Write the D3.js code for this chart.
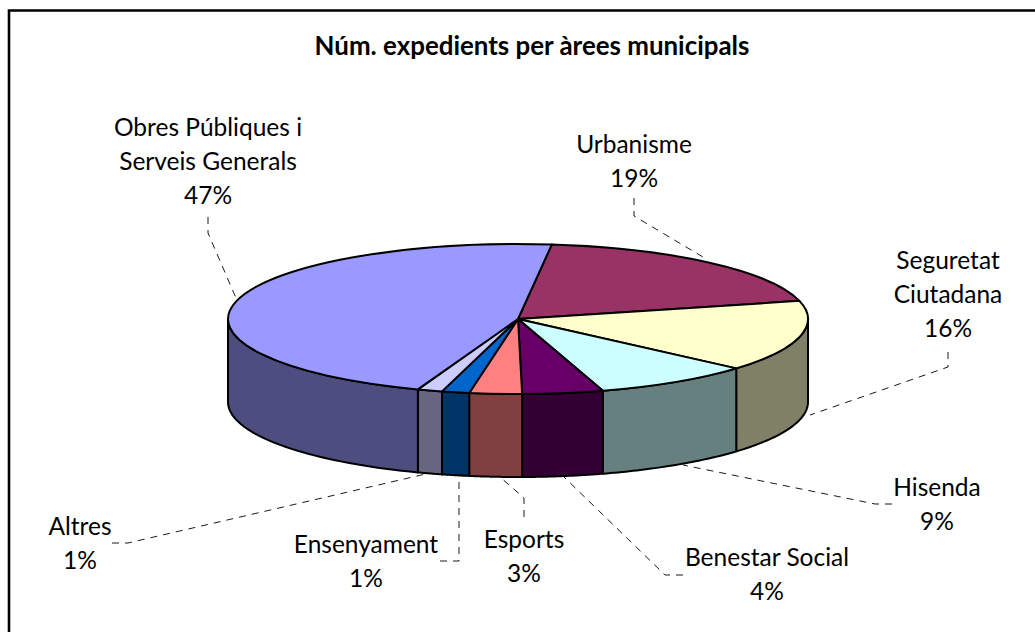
<!DOCTYPE html>
<html>
<head>
<meta charset="utf-8">
<script src="https://cdn.jsdelivr.net/npm/d3@7"></script>
<style>
  html, body { margin: 0; padding: 0; background: #fff; }
  svg { display: block; }
  text { font-family: "Lato", sans-serif; fill: #000; text-anchor: middle; }
</style>
</head>
<body>
<svg id="chart" width="1035" height="632"></svg>
<script>
const chartTitle = 'Núm. expedients per àrees municipals';

/* slices in drawing order, clockwise from the top */
const areas = ['Urbanisme', 'Seguretat Ciutadana', 'Hisenda', 'Benestar Social',
               'Esports', 'Ensenyament', 'Altres', 'Obres Públiques i Serveis Generals'];
const shares = [19.25, 15.33, 8.83, 4.5, 2.92, 1.53, 1.39, 46.25];
const percentLabels = ['19%', '16%', '9%', '4%', '3%', '1%', '1%', '47%'];
const topColors = ['#993366', '#FFFFCC', '#CCFFFF', '#660066', '#FF8080', '#0066CC', '#CCCCFF', '#9999FF'];

/* label placement: centre x, first baseline, wrapped lines */
const labelLines = [
  ['Urbanisme'], ['Seguretat', 'Ciutadana'], ['Hisenda'], ['Benestar Social'],
  ['Esports'], ['Ensenyament'], ['Altres'], ['Obres Públiques i', 'Serveis Generals']
];
const labelX = [634, 948, 937, 767, 524, 366, 80, 208];
const labelY = [153, 269, 496, 566, 548, 553, 535, 136];

/* leader lines, label end to pie end */
const leaders = [
  [[634, 198], [634, 216], [708, 260]],
  [[948, 352], [948, 367], [810, 415]],
  [[892, 504], [875, 504], [683, 465]],
  [[683, 575], [665, 575], [563, 476]],
  [[524, 517], [524, 498], [500, 477]],
  [[440, 561], [459, 561], [459, 475]],
  [[112, 543], [128, 543], [430, 473]],
  [[208, 217], [208, 233], [236, 298]]
];

const cx = 518, cy = 319, rx = 290, ry = 75, depth = 83;
const startDeg = 6.7;
const rad = d => d * Math.PI / 180;

const svg = d3.select('#chart');

/* frame: only top and left edges show */
svg.append('path')
  .attr('d', 'M9,632V10.5H1035')
  .attr('fill', 'none').attr('stroke', '#000').attr('stroke-width', 2.6);

svg.append('text')
  .attr('x', 532).attr('y', 55)
  .attr('font-size', 25.9).attr('font-weight', 700)
  .text(chartTitle);

const arcData = d3.pie().sort(null)
  .startAngle(rad(startDeg)).endAngle(rad(startDeg + 360))(shares);

const rimX = a => cx + rx * Math.sin(a);
const rimY = a => cy - ry * Math.cos(a);

/* leader lines go under the pie */
const leaderLine = d3.line();
svg.append('g').selectAll('path').data(leaders).join('path')
  .attr('d', leaderLine)
  .attr('fill', 'none').attr('stroke', '#000').attr('stroke-width', 0.9)
  .attr('stroke-dasharray', '7 6');

/* side wall: the part of each slice on the front half of the rim */
const sideColor = c => {
  const k = d3.rgb(c);
  return d3.rgb(k.r / 2, k.g / 2, k.b / 2).formatHex();
};
const wallPath = d => {
  const front = [rad(90), rad(270)];
  const pts = [];
  [[d.startAngle, d.endAngle], [d.startAngle - 2 * Math.PI, d.endAngle - 2 * Math.PI]].forEach(([s, e]) => {
    const a0 = Math.max(s, front[0]), a1 = Math.min(e, front[1]);
    if (a1 > a0) d3.range(0, 41).forEach(i => pts.push(a0 + (a1 - a0) * i / 40));
  });
  if (!pts.length) return null;
  const top = pts.map(a => [rimX(a), rimY(a)]);
  const bottom = pts.slice().reverse().map(a => [rimX(a), rimY(a) + depth]);
  return d3.line()(top.concat(bottom)) + 'Z';
};

svg.append('g').selectAll('path').data(arcData).join('path')
  .attr('d', wallPath)
  .attr('fill', (_, i) => sideColor(topColors[i]))
  .attr('stroke', '#000').attr('stroke-width', 2).attr('stroke-linejoin', 'round');

/* top face: a flat arc squashed into the ellipse */
const arcGenerator = d3.arc().innerRadius(0).outerRadius(rx);
svg.append('g')
  .attr('transform', `translate(${cx},${cy}) scale(1,${ry / rx})`)
  .selectAll('path').data(arcData).join('path')
  .attr('d', arcGenerator)
  .attr('fill', (_, i) => topColors[i])
  .attr('stroke', '#000').attr('stroke-width', 2).attr('stroke-linejoin', 'round')
  .attr('vector-effect', 'non-scaling-stroke');

/* labels */
const labels = svg.append('g').selectAll('text').data(areas).join('text')
  .attr('font-size', 24.5)
  .attr('y', (_, i) => labelY[i]);
labels.each(function (_, i) {
  const lines = labelLines[i].concat(percentLabels[i]);
  d3.select(this).selectAll('tspan').data(lines).join('tspan')
    .attr('x', labelX[i])
    .attr('dy', (_, j) => j ? 34 : 0)
    .text(t => t);
});
</script>
</body>
</html>
